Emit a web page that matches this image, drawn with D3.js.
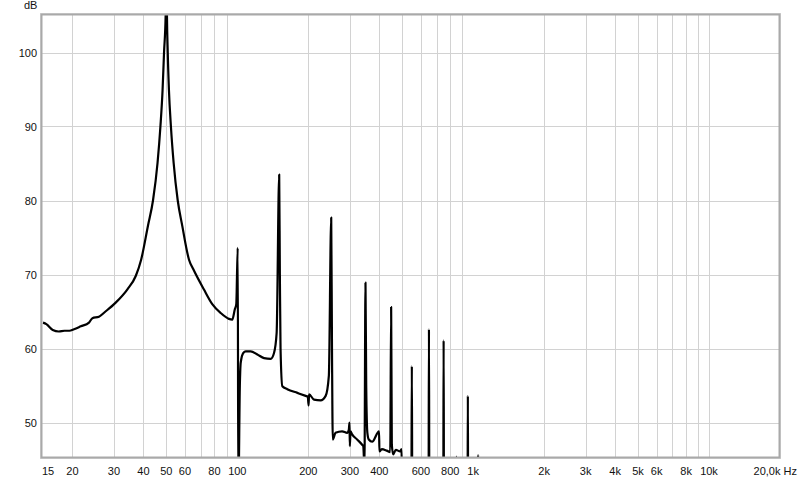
<!DOCTYPE html>
<html>
<head>
<meta charset="utf-8">
<script src="https://cdn.jsdelivr.net/npm/d3@7"></script>
<style>
  html, body { margin: 0; padding: 0; background: #fff; }
  svg text { font-family: "Liberation Sans", Arial, sans-serif; font-size: 11px; fill: #111; }
</style>
</head>
<body>
<svg id="chart" width="800" height="480"></svg>
<script>
// frequency (Hz) / level (dB)
const freq = [
  15.0, 15.5, 16.5, 17.5, 18.5, 19.4, 20.3, 21.7, 23.5, 24.3, 25.9, 27.6, 30.5, 34.2, 37.1, 39.1,
  41.8, 43.9, 45.9, 47.2, 48.2, 48.9, 49.7, 50.0, 50.3, 50.7, 51.3, 52.3, 53.7, 55.9, 58.4, 62.4,
  65.1, 72.1, 78.3, 85.0, 92.1, 95.2, 97.6, 99.0, 100.4, 101.0,
  102.5, 103.4, 106, 108.6, 113.9, 121.6, 129.8, 138.5, 143.1, 146.8, 150.5, 151.5, 152.5,
  155.2, 162.9, 179.8, 194.9, 199, 200.5, 201.5, 211.4, 225.6, 236.9, 244.4, 250.1, 252, 254.0,
  260.8, 278.2, 292.1, 297, 298.9, 300, 302, 306.8, 322.2, 338.3, 342, 346, 349.5, 352, 356,
  361, 373, 399, 400.5, 410, 430, 445, 449, 452, 458, 470, 490, 497, 500,
  547, 549.5, 552, 647, 649.5, 652, 747, 749.5, 752, 845, 849, 853, 947, 949.5, 952,
  1045, 1049, 1053, 20000
];
const level = [
  63.5, 63.3, 62.5, 62.3, 62.4, 62.4, 62.6, 63.0, 63.5, 64.1, 64.3, 65.0, 66.2, 68.0, 69.8, 72.0,
  76.6, 80.0, 85.1, 90.0, 94.9, 100.0, 105.3, 115.0, 105.3, 100.0, 94.9, 90.0, 85.1, 80.0, 76.6, 72.0,
  70.7, 68.0, 66.0, 64.8, 64.0, 63.9, 65.3, 66.0, 73.6, 40,
  55.0, 58.1, 59.4, 59.6, 59.6, 59.2, 58.7, 58.6, 59.4, 62.1, 83.5, 70.0, 60.0,
  54.9, 54.5, 54.0, 53.6, 53.5, 52.3, 53.8, 53.1, 53.0, 53.6, 56.3, 77.7, 60.0, 47.7,
  48.6, 48.8, 48.6, 49.0, 50.0, 46.8, 48.8, 48.4, 47.7, 47.0, 46.8, 44.0, 68.9, 55.0, 48.6,
  47.7, 47.4, 48.8, 46.1, 46.4, 46.2, 46.0, 65.6, 47.0, 45.7, 46.3, 46.1, 46.4, 40,
  40, 57.6, 40, 40, 62.6, 40, 40, 61.1, 40, 40, 45.4, 40, 40, 53.6, 40,
  40, 45.6, 40, 40
];

const yTicks = [50, 60, 70, 80, 90, 100];
const xLabelFreqs = [15, 20, 30, 40, 50, 60, 80, 100, 200, 300, 400, 600, 800,
  1000, 2000, 3000, 4000, 5000, 6000, 8000, 10000];
const xLabelText = ['15', '20', '30', '40', '50', '60', '80', '100', '200', '300', '400', '600', '800',
  '1k', '2k', '3k', '4k', '5k', '6k', '8k', '10k'];

const svg = d3.select('#chart');
const box = { left: 41, top: 14, right: 780, bottom: 458 };

const x = d3.scaleLog().domain([15, 20000]).range([43, 780]);
const y = d3.scaleLinear().domain([50, 100]).range([422.5, 52.5]);

// grid lines: 2..9 of every decade, up to 10k
let gridFreqs = [];
[10, 100, 1000].forEach(dec => {
  for (let m = 2; m <= 9; m++) gridFreqs.push(m * dec);
});
gridFreqs.push(10000);

const grid = svg.append('g').attr('class', 'grid')
  .attr('stroke', '#d2d2d2').attr('stroke-width', 1);

grid.selectAll('.vline')
  .data(gridFreqs).enter()
  .append('line').attr('class', 'vline')
  .attr('x1', d => Math.round(x(d)) + 0.5)
  .attr('x2', d => Math.round(x(d)) + 0.5)
  .attr('y1', box.top).attr('y2', box.bottom);

grid.selectAll('.hline')
  .data(yTicks).enter()
  .append('line').attr('class', 'hline')
  .attr('x1', box.left).attr('x2', box.right)
  .attr('y1', d => Math.round(y(d)) + 0.5)
  .attr('y2', d => Math.round(y(d)) + 0.5);

// the trace, clipped to the plot box
svg.append('clipPath').attr('id', 'plotclip')
  .append('rect')
  .attr('x', box.left + 1).attr('y', box.top + 1)
  .attr('width', box.right - box.left - 2)
  .attr('height', box.bottom - box.top - 2);

const pts = freq.map((f, i) => [f, level[i]]);
const line = d3.line()
  .x(d => x(d[0]))
  .y(d => y(d[1]))
  .curve(d3.curveMonotoneX);

svg.append('path')
  .datum(pts)
  .attr('clip-path', 'url(#plotclip)')
  .attr('d', line)
  .attr('fill', 'none')
  .attr('stroke', '#000')
  .attr('stroke-width', 2.2)
  .attr('stroke-linejoin', 'round');

// frame
svg.append('rect')
  .attr('x', box.left - 0.5).attr('y', box.top - 0.5)
  .attr('width', box.right - box.left + 1).attr('height', box.bottom - box.top + 1)
  .attr('fill', 'none').attr('stroke', '#d6d6d6').attr('stroke-width', 1);
svg.append('rect')
  .attr('x', box.left + 0.5).attr('y', box.top + 0.5)
  .attr('width', box.right - box.left - 1).attr('height', box.bottom - box.top - 1)
  .attr('fill', 'none').attr('stroke', '#a9a9a9').attr('stroke-width', 2);

// labels
svg.selectAll('.ylab')
  .data(yTicks).enter()
  .append('text').attr('class', 'ylab')
  .attr('x', 37)
  .attr('y', d => y(d) + 4)
  .attr('text-anchor', 'end')
  .text(d => d);

svg.append('text').attr('x', 24).attr('y', 9).text('dB');

svg.selectAll('.xlab')
  .data(xLabelFreqs).enter()
  .append('text').attr('class', 'xlab')
  .attr('x', (d, i) => i === 0 ? box.left + 1 : x(d))
  .attr('y', 475)
  .attr('text-anchor', (d, i) => i === 0 ? 'start' : 'middle')
  .text((d, i) => xLabelText[i]);

svg.append('text')
  .attr('x', 797).attr('y', 475)
  .attr('text-anchor', 'end')
  .text('20,0k Hz');
</script>
</body>
</html>
